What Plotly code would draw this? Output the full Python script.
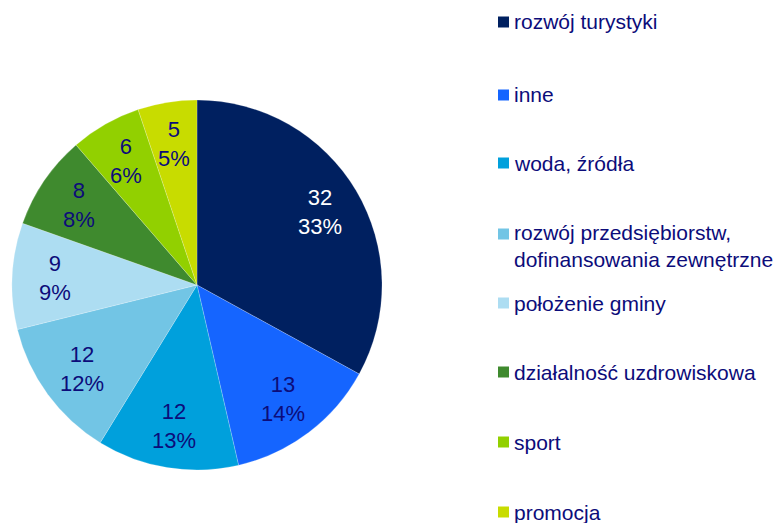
import math
import plotly.graph_objects as go

categories = ["rozwój turystyki", "inne", "woda, źródła",
              "rozwój przedsiębiorstw,<br>dofinansowania zewnętrzne",
              "położenie gminy", "działalność uzdrowiskowa", "sport", "promocja"]
values = [32, 13, 12, 12, 9, 8, 6, 5]
percents = [33, 14, 13, 12, 9, 8, 6, 5]
colors = ["#002060", "#1565FF", "#00A0DC", "#72C5E5", "#ADDDF2", "#3F8A2E", "#92D000", "#C8DC00"]
text_colors = ["#FFFFFF"] + ["#0C0C7A"] * 7

W, H = 779, 523
CX, CY, R = 197, 285, 185  # pie centre and radius in px
FONT = "Liberation Sans, Arial"

fig = go.Figure()
fig.add_trace(go.Pie(
    labels=categories, values=values, customdata=percents,
    sort=False, direction="clockwise", rotation=0,
    marker=dict(colors=colors, line=dict(color="rgba(255,255,255,0.4)", width=0.5)),
    textinfo="none",
    hovertemplate="%{label}: %{value} (%{customdata}%)<extra></extra>",
    domain=dict(x=[(CX - R) / W, (CX + R) / W], y=[1 - (CY + R) / H, 1 - (CY - R) / H]),
    showlegend=False,
))

# slice labels, placed at each slice's mid-angle (computed from the values)
total = sum(values)
cum = 0
for v, p, tc in zip(values, percents, text_colors):
    mid = (cum + v / 2) / total * 2 * math.pi
    cum += v
    rr = 0.77 * R
    px = CX + rr * math.sin(mid)
    py = CY - rr * math.cos(mid)
    fig.add_annotation(text=f"{v}<br>{p}%", xref="paper", yref="paper",
                       x=px / W, y=1 - py / H, xanchor="center", yanchor="middle",
                       showarrow=False, align="center",
                       font=dict(size=22, color=tc, family=FONT))

legend_y = [22, 95, 163, 246, 303, 372, 442, 512]
marker_y = [22, 95, 163, 234, 303, 372, 442, 512]
for cat, col, ly, my in zip(categories, colors, legend_y, marker_y):
    fig.add_shape(type="rect", xref="paper", yref="paper",
                  x0=498 / W, x1=509 / W, y0=1 - (my + 5.5) / H, y1=1 - (my - 5.5) / H,
                  fillcolor=col, line=dict(width=0))
    fig.add_annotation(text=cat, xref="paper", yref="paper", x=512 / W, y=1 - ly / H,
                       xanchor="left", yanchor="middle", showarrow=False, align="left",
                       font=dict(size=21, color="#0C0C7A", family=FONT))

fig.update_layout(width=W, height=H, margin=dict(l=0, r=0, t=0, b=0),
                  paper_bgcolor="white", plot_bgcolor="white")
fig.write_html("out.html", config={"displayModeBar": False},
               post_script="document.body.style.margin='0';")
